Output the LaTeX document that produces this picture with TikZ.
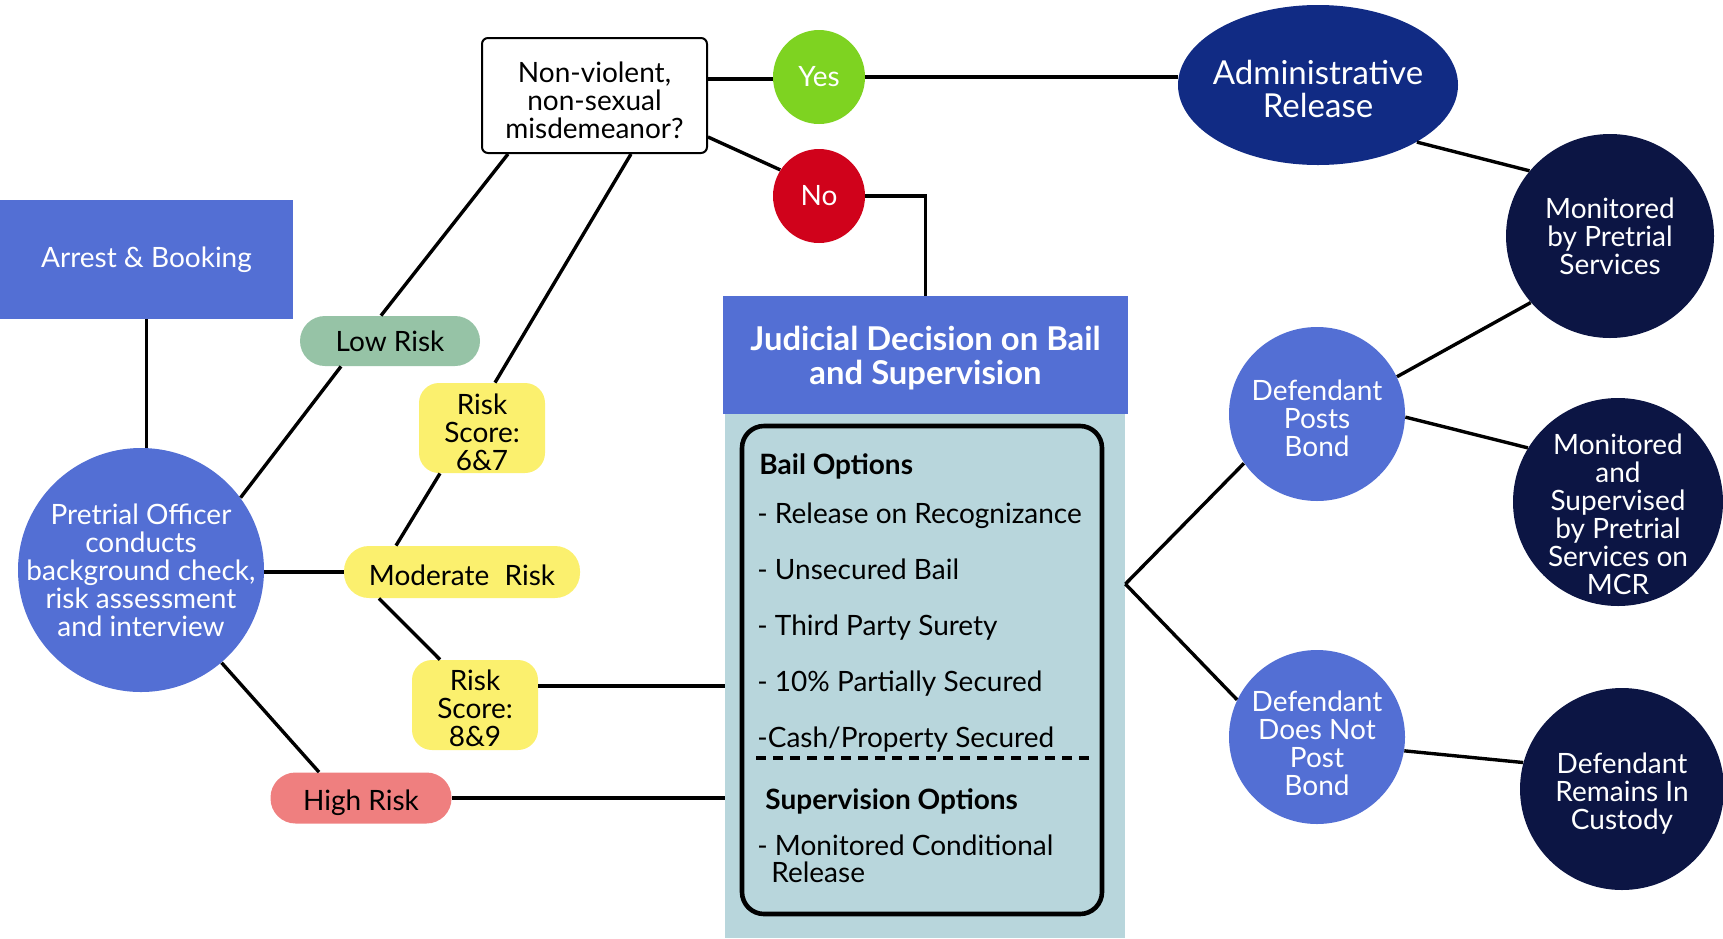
\documentclass[tikz,border=0pt]{standalone}
\usepackage{fontspec}
\setmainfont{Lato}
\usetikzlibrary{shapes.geometric}
\definecolor{midblue}{RGB}{83,111,212}
\definecolor{adminblue}{RGB}{17,43,132}
\definecolor{navy}{RGB}{12,21,68}
\definecolor{bodyblue}{RGB}{184,214,220}
\definecolor{yesgreen}{RGB}{126,211,33}
\definecolor{nored}{RGB}{208,2,27}
\definecolor{lowgreen}{RGB}{150,195,166}
\definecolor{riskyellow}{RGB}{251,240,110}
\definecolor{highred}{RGB}{239,127,127}
\begin{document}
\begin{tikzpicture}[x=0.5pt,y=-0.5pt,
  conn/.style={line width=1.7pt},
  thick conn/.style={line width=2.3pt},
  lbl/.style={font=\fontsize{14}{14}\selectfont, align=center, inner sep=0pt},
  wlbl/.style={lbl, text=white},
  shapebox/.style={inner sep=0pt},
  bluebox/.style={shapebox, fill=midblue},
  darkell/.style={shapebox, ellipse, fill=navy},
  midell/.style={shapebox, ellipse, fill=midblue},
  pill/.style={shapebox, rectangle, rounded corners=12.5pt, minimum height=25pt},
  score/.style={shapebox, rectangle, rounded corners=10pt, fill=riskyellow, minimum width=63pt, minimum height=45pt},
  item/.style={font=\fontsize{14}{14}\selectfont, anchor=base west, inner sep=0pt},
  itemhead/.style={font=\fontsize{14}{14}\selectfont\bfseries, anchor=base west, inner sep=0pt}
]
\useasboundingbox (0,0) rectangle (1723,938);

% left side
\node[bluebox, minimum width=146.5pt, minimum height=59.5pt,
  label={[wlbl]center:{Arrest \& Booking}}] (arrest) at (146.5,259.5) {};
\node[midell, minimum width=123pt, minimum height=122pt,
  label={[wlbl]center:{Pretrial Officer\\conducts\\background check,\\risk assessment\\and interview}}] (pre) at (141,570) {};
\node[pill, fill=lowgreen, minimum width=90pt,
  label={[lbl]center:{Low Risk}}] (low) at (390,341) {};
\node[score, label={[lbl, yshift=-2.2pt]center:{Risk\\Score:\\6\&7}}] (r67) at (482,428) {};
\node[pill, fill=riskyellow, minimum width=118pt, minimum height=26pt,
  label={[lbl, yshift=-1.6pt]center:{Moderate\hspace{0.55em}Risk}}] (mod) at (462,572) {};
\node[score, label={[lbl, yshift=-1.6pt]center:{Risk\\Score:\\8\&9}}] (r89) at (475,705) {};
\node[pill, fill=highred, minimum width=90.5pt, minimum height=25.5pt,
  label={[lbl, yshift=-2.2pt]center:{High Risk}}] (high) at (361,798) {};

% question
\node[shapebox, draw, line width=1pt, rounded corners=3pt, fill=white, minimum width=112.5pt, minimum height=57.5pt,
  label={[lbl, yshift=-2.6pt]center:{Non-violent,\\non-sexual\\misdemeanor?}}] (q) at (594.5,95.5) {};
\node[shapebox, ellipse, fill=yesgreen, minimum width=46pt, minimum height=47pt,
  label={[wlbl]center:{Yes}}] (yes) at (819,77) {};
\node[shapebox, ellipse, fill=nored, minimum width=46pt, minimum height=47pt,
  label={[wlbl]center:{No}}] (no) at (819,196) {};

% judicial box
\node[shapebox, fill=bodyblue, minimum width=200pt, minimum height=262pt] (body) at (925,676) {};
\node[bluebox, minimum width=202.5pt, minimum height=59pt,
  label={[wlbl, font=\fontsize{16.4}{17}\selectfont\bfseries, yshift=-1.6pt]center:{Judicial Decision on Bail\\and Supervision}}] (head) at (925.5,355) {};
\node[shapebox, draw, line width=2.3pt, rounded corners=11pt, minimum width=180pt, minimum height=244pt] (inner) at (922,670) {};
\node[itemhead] (bo) at (759,474) {Bail Options};
\node[item] (i1) at (757,523) {- Release on Recognizance};
\node[item] (i2) at (757,579) {- Unsecured Bail};
\node[item] (i3) at (757,635) {- Third Party Surety};
\node[item] (i4) at (757,691) {- 10\% Partially Secured};
\node[item] (i5) at (757,747) {-Cash/Property Secured};
\draw[line width=1.7pt, dash pattern=on 5pt off 3.5pt] (756,758) -- (1093,758);
\node[itemhead] (so) at (765,809) {Supervision Options};
\node[item] (i6) at (757,855) {- Monitored Conditional};
\node[item] (i7) at (771,882) {Release};

% right side
\node[shapebox, ellipse, fill=adminblue, minimum width=140pt, minimum height=80pt,
  label={[wlbl, font=\fontsize{16.5}{16.5}\selectfont, yshift=-2.2pt]center:{Administrative\\Release}}] (admin) at (1318,85) {};
\node[darkell, minimum width=104pt, minimum height=102pt,
  label={[wlbl]center:{Monitored\\by Pretrial\\Services}}] (mps) at (1610,236) {};
\node[midell, minimum width=88pt, minimum height=87pt,
  label={[wlbl, yshift=-2.2pt]center:{Defendant\\Posts\\Bond}}] (posts) at (1317,414) {};
\node[darkell, minimum width=105pt, minimum height=104pt,
  label={[wlbl, yshift=-6pt]center:{Monitored\\and\\Supervised\\by Pretrial\\Services on\\MCR}}] (mcr) at (1618,502) {};
\node[midell, minimum width=88pt, minimum height=87pt,
  label={[wlbl, yshift=-3.3pt]center:{Defendant\\Does Not\\Post\\Bond}}] (notpost) at (1317,737) {};
\node[darkell, minimum width=102pt, minimum height=101pt,
  label={[wlbl, yshift=-2.2pt]center:{Defendant\\Remains In\\Custody}}] (custody) at (1622,789) {};

% connectors
\draw[conn] (arrest.south) -- (arrest.south |- pre.north);
\draw[conn] (pre.36) -- ([xshift=-24.5pt]low.south);
\draw[conn] ([xshift=-4.5pt]low.north) -- ([xshift=13.5pt]q.south west);
\draw[conn] ([xshift=75pt]q.south west) -- ([xshift=6.5pt]r67.north);
\draw[conn] ([xshift=-21pt]r67.south) -- ([xshift=-33pt]mod.north);
\draw[thick conn] (mod.west -| pre.east) -- (mod.west);
\draw[conn] ([xshift=-41.5pt]mod.south) -- ([xshift=-17.5pt]r89.north);
\draw[thick conn] ([yshift=9.5pt]r89.east) -- ([yshift=9.5pt]r89.east -| body.west);
\draw[conn] (pre.-49) -- ([xshift=-21pt]high.north);
\draw[thick conn] (high.east) -- (high.east -| body.west);
\draw[thick conn] ([yshift=-1pt]yes.west -| q.east) -- ([yshift=-1pt]yes.west);
\draw[thick conn] (yes.east) -- (yes.east -| admin.west);
\draw[conn] ([yshift=-20.75pt]q.east) -- (no.146);
\draw[conn] (no.east) -- (no.east -| head.north) -- (head.north);
\draw[conn] ([yshift=46pt]body.east) -- (posts.214);
\draw[conn] ([yshift=46pt]body.east) -- (notpost.155);
\draw[conn] (admin.-30) -- (mps.141);
\draw[conn] (posts.25) -- (mps.220);
\draw[conn] (posts.-2) -- (mcr.149);
\draw[conn] (notpost.-9) -- (custody.165);
\end{tikzpicture}
\end{document}
